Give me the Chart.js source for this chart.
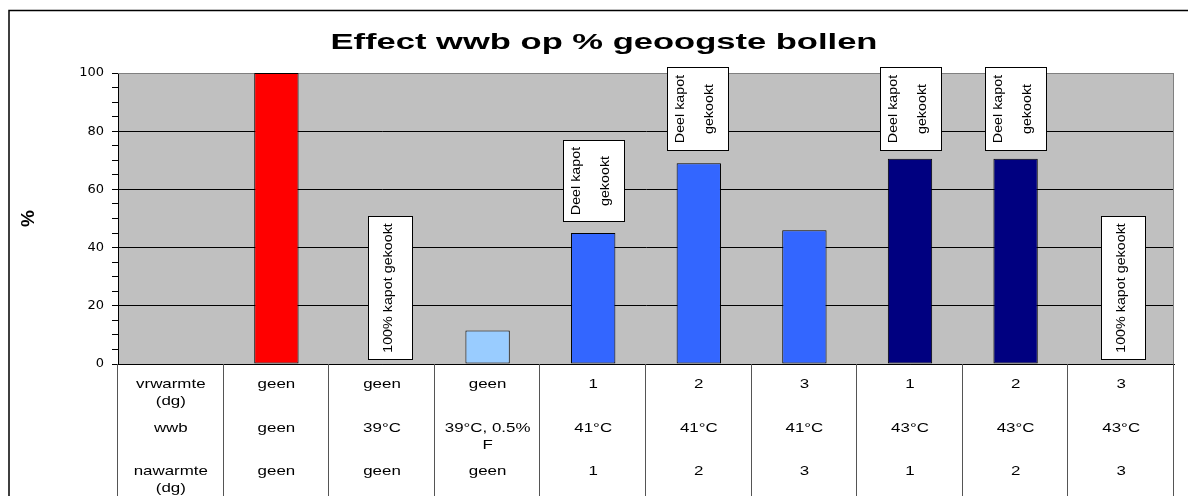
<!DOCTYPE html>
<html>
<head>
<meta charset="utf-8">
<script src="https://cdn.jsdelivr.net/npm/chart.js@4.4.1/dist/chart.umd.min.js"></script>
<style>
  html, body { margin: 0; padding: 0; background: #fff; }
  #chart { display: block; }
</style>
</head>
<body>
<canvas id="chart" width="1188" height="496"></canvas>
<script>
const chartTitle = 'Effect wwb op % geoogste bollen';
const yTitle = '%';

// first column has no bar, it only holds the row headers of the data table
const categories = ['', 'geen', 'geen', 'geen', '1', '2', '3', '1', '2', '3'];
const rowHeaders = ['vrwarmte\n(dg)', 'wwb', 'nawarmte\n(dg)'];
const vrwarmte = ['geen', 'geen', 'geen', '1', '2', '3', '1', '2', '3'];
const wwb = ['geen', '39°C', '39°C, 0.5%\nF', '41°C', '41°C', '41°C', '43°C', '43°C', '43°C'];
const nawarmte = ['geen', 'geen', 'geen', '1', '2', '3', '1', '2', '3'];
const geoogst = [null, 100, 0, 11.5, 45, 69, 46, 70.5, 70.5, 0];
const barColors = ['#000', '#FF0000', '#C0C0C0', '#99CCFF', '#3366FF', '#3366FF', '#3366FF', '#000080', '#000080', '#C0C0C0'];

// text boxes in the plot, from/to in % units
const kapot = '100% kapot gekookt';
const deelKapot = ['Deel kapot', 'gekookt'];
const notes = [
    { at: 2, lines: [kapot], from: 1.8, to: 51, shift: 8 },
    { at: 4, lines: deelKapot, from: 49, to: 77, shift: 0 },
    { at: 5, lines: deelKapot, from: 73.6, to: 102.2, shift: -1 },
    { at: 7, lines: deelKapot, from: 73.6, to: 102.2, shift: 0 },
    { at: 8, lines: deelKapot, from: 73.6, to: 102.2, shift: 0 },
    { at: 9, lines: [kapot], from: 1.8, to: 51, shift: 1.5 },
];

const FONT = '"Liberation Sans", Arial, sans-serif';

const stretchText = (ctx, str, x, y, sx) => {
    ctx.save();
    ctx.translate(x, y);
    ctx.scale(sx, 1);
    ctx.fillText(str, 0, 0);
    ctx.restore();
};

const frameAndTitle = {
    id: 'frameAndTitle',
    beforeDraw(chart) {
        const { ctx, chartArea: a } = chart;
        ctx.save();
        ctx.fillStyle = '#fff';
        ctx.fillRect(0, 0, chart.width, chart.height);
        ctx.fillStyle = '#C0C0C0';
        ctx.fillRect(a.left, a.top, a.right - a.left, a.bottom - a.top);

        // outer frame (cut off at the right and bottom in the original)
        ctx.strokeStyle = '#000';
        ctx.lineWidth = 1.5;
        ctx.beginPath();
        ctx.moveTo(9, chart.height);
        ctx.lineTo(9, 10.5);
        ctx.lineTo(chart.width, 10.5);
        ctx.stroke();

        ctx.fillStyle = '#000';
        ctx.font = 'bold 22px ' + FONT;
        ctx.textAlign = 'center';
        ctx.textBaseline = 'alphabetic';
        stretchText(ctx, chartTitle, 604, 49, 1.57);
        ctx.restore();
    },
    beforeDatasetsDraw(chart) {
        const { ctx, chartArea: a } = chart;
        ctx.save();
        ctx.strokeStyle = '#808080';
        ctx.lineWidth = 1;
        ctx.beginPath();
        ctx.moveTo(a.left, a.top + 0.5);
        ctx.lineTo(a.right - 0.5, a.top + 0.5);
        ctx.lineTo(a.right - 0.5, a.bottom);
        ctx.stroke();
        ctx.restore();
    }
};

const textBoxes = {
    id: 'textBoxes',
    afterDatasetsDraw(chart) {
        const { ctx, scales: { x, y } } = chart;
        ctx.save();
        ctx.font = '13px ' + FONT;
        ctx.textAlign = 'center';
        ctx.textBaseline = 'middle';
        notes.forEach(n => {
            const two = n.lines.length > 1;
            const w = two ? 61 : 44;
            const cx = x.getPixelForValue(n.at) + n.shift;
            const left = Math.round(cx - w / 2) + 0.5;
            const top = Math.round(y.getPixelForValue(n.to)) + 0.5;
            const bottom = Math.round(y.getPixelForValue(n.from)) + 0.5;
            ctx.fillStyle = '#fff';
            ctx.fillRect(left, top, w, bottom - top);
            ctx.strokeStyle = '#000';
            ctx.lineWidth = 1;
            ctx.strokeRect(left, top, w, bottom - top);

            ctx.fillStyle = '#000';
            const offsets = two ? [-18, 11] : [-2.5];
            n.lines.forEach((line, i) => {
                ctx.save();
                ctx.translate(left + w / 2 + offsets[i], (top + bottom) / 2);
                ctx.rotate(-Math.PI / 2);
                ctx.scale(1.1, 1);
                ctx.fillText(line, 0, 0);
                ctx.restore();
            });
        });
        ctx.restore();
    }
};

const dataTable = {
    id: 'dataTable',
    afterDraw(chart) {
        const { ctx, chartArea: a, scales: { x } } = chart;
        const half = (x.getPixelForValue(1) - x.getPixelForValue(0)) / 2;
        ctx.save();
        ctx.strokeStyle = '#555';
        ctx.lineWidth = 1;
        for (let i = 0; i <= categories.length; i++) {
            const px = Math.round(x.getPixelForValue(i) - half) - 0.5;
            ctx.beginPath();
            ctx.moveTo(px, a.bottom);
            ctx.lineTo(px, chart.height);
            ctx.stroke();
        }

        ctx.fillStyle = '#000';
        ctx.font = '13px ' + FONT;
        ctx.textAlign = 'center';
        ctx.textBaseline = 'middle';
        const rows = [vrwarmte, wwb, nawarmte];
        const rowY = [20, 64, 107];
        rows.forEach((row, r) => {
            const cells = [rowHeaders[r]].concat(row);
            cells.forEach((cell, c) => {
                cell.split('\n').forEach((part, k) => {
                    stretchText(ctx, part, x.getPixelForValue(c), a.bottom + rowY[r] + k * 17.5, 1.3);
                });
            });
        });
        ctx.restore();
    }
};

new Chart(document.getElementById('chart'), {
    type: 'bar',
    data: {
        labels: categories,
        datasets: [{
            data: geoogst,
            backgroundColor: barColors,
            borderColor: '#000',
            borderWidth: 1,
            borderSkipped: false,
            barPercentage: 0.42,
            categoryPercentage: 1
        }]
    },
    options: {
        responsive: false,
        animation: false,
        layout: { padding: { top: 73, right: 14, left: 8, bottom: 0 } },
        plugins: {
            legend: { display: false },
            tooltip: { enabled: false },
            title: { display: false }
        },
        scales: {
            x: {
                ticks: { display: false },
                grid: { display: false },
                border: { color: '#000', width: 1 },
                afterFit: s => { s.height = 132; }
            },
            y: {
                min: 0,
                max: 100,
                ticks: {
                    stepSize: 5,
                    autoSkip: false,
                    padding: 8,
                    color: '#000',
                    font: { family: '"DejaVu Sans"', size: 13 },
                    callback: v => (v % 20 === 0 ? v : '')
                },
                grid: {
                    color: c => (c.tick && c.tick.value % 20 === 0 ? (c.tick.value === 100 ? '#808080' : '#000') : 'rgba(0,0,0,0)'),
                    tickColor: '#000',
                    tickLength: 6,
                    lineWidth: 1
                },
                border: { color: '#000', width: 1 },
                title: {
                    display: true,
                    text: yTitle,
                    color: '#000',
                    font: { family: FONT, size: 19, weight: 'bold' },
                    padding: { top: 9, bottom: 0 }
                },
                afterFit: s => { s.width = 110; }
            }
        }
    },
    plugins: [frameAndTitle, textBoxes, dataTable]
});
</script>
</body>
</html>
